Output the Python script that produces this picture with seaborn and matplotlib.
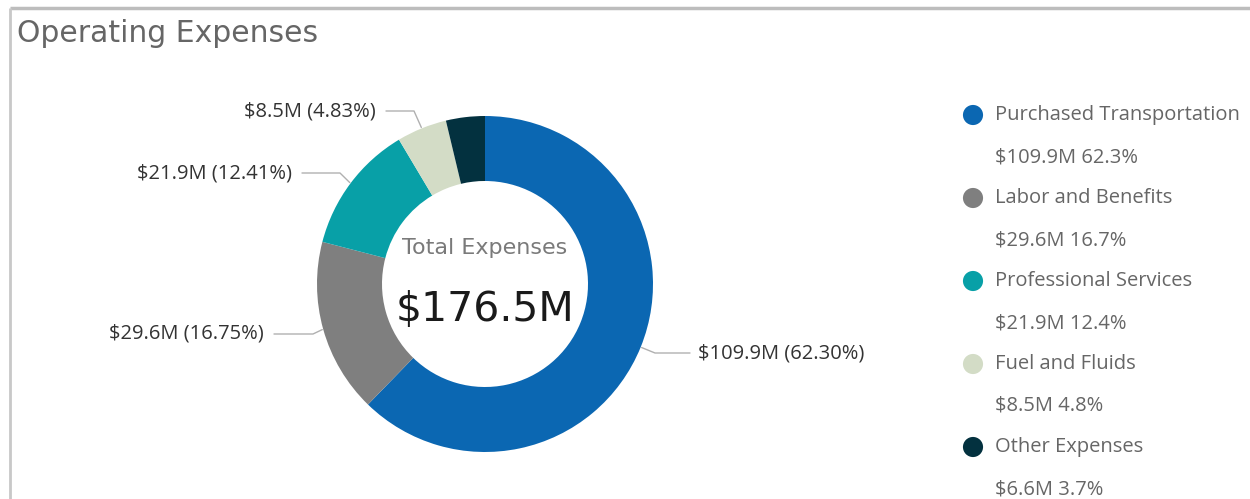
import matplotlib
matplotlib.use("Agg")
import matplotlib.pyplot as plt
import numpy as np
import seaborn as sns

# Operating expense breakdown ($M)
categories = ["Purchased Transportation", "Labor and Benefits",
              "Professional Services", "Fuel and Fluids", "Other Expenses"]
values = [109.9, 29.6, 21.9, 8.5, 6.6]
slice_pct = ["62.30%", "16.75%", "12.41%", "4.83%", None]
legend_pct = ["62.3%", "16.7%", "12.4%", "4.8%", "3.7%"]
total_label = "$176.5M"
colors = ["#0B67B2", "#7F7F7F", "#08A0A7", "#D3DCC6", "#03313F"]

sns.set_theme(style="white")
plt.rcParams["font.family"] = ["Open Sans", "DejaVu Sans"]

W, H = 1250, 499
fig = plt.figure(figsize=(W / 100, H / 100), dpi=100)
ax = fig.add_axes([0, 0, 1, 1])

def Y(y):
    # top-down pixel row to axis coordinate
    return H - y

cx, cy, R, ring = 485, Y(284), 168, 65
wedges, _ = ax.pie(values, colors=sns.color_palette(colors), startangle=90,
                   counterclock=False, radius=R, center=(cx, cy),
                   wedgeprops=dict(width=ring, edgecolor="none"))

# panel frame (top and left edges)
ax.plot([10, W], [Y(8), Y(8)], color="#BDBDBD", lw=2.5, solid_capstyle="butt")
ax.plot([10, 10], [Y(8), 0], color="#C8C8C8", lw=2.0, solid_capstyle="butt")

ax.text(17, Y(33), "Operating Expenses", fontsize=21.5, color="#666666",
        ha="left", va="center", family=["DejaVu Sans"])

# centre summary
ax.text(cx, Y(248), "Total Expenses", fontsize=16, color="#7A7A7A",
        ha="center", va="center", family=["DejaVu Sans"])
ax.text(cx, Y(310), total_label, fontsize=29.5, color="#1A1A1A",
        ha="center", va="center", family=["DejaVu Sans"])

# detail labels with leader lines: (label row, elbow x, line end x, side)
leaders = {
    0: (353, 655, 690, "right"),
    1: (334, 313, 274, "left"),
    2: (173, 340, 302, "left"),
    3: (111, 414, 386, "left"),
}
for i, (ly, ex, lx, side) in leaders.items():
    w = wedges[i]
    mid = np.deg2rad((w.theta1 + w.theta2) / 2)
    px = cx + (R + 1) * np.cos(mid)
    py = cy + (R + 1) * np.sin(mid)
    ax.plot([px, ex, lx], [py, Y(ly), Y(ly)], color="#B0B0B0", lw=1.0)
    label = f"${values[i]}M ({slice_pct[i]})"
    if side == "right":
        ax.text(lx + 8, Y(ly), label, fontsize=14.5, color="#333333",
                ha="left", va="center")
    else:
        ax.text(lx - 10, Y(ly), label, fontsize=14.5, color="#333333",
                ha="right", va="center")

# legend
row0, step = 115, 83
for i, name in enumerate(categories):
    ry = row0 + i * step
    ax.scatter([973], [Y(ry)], s=210, color=colors[i], edgecolor="none")
    ax.text(995, Y(ry), name, fontsize=14.5, color="#666666",
            ha="left", va="center")
    ax.text(995, Y(ry + 42), f"${values[i]}M {legend_pct[i]}", fontsize=14.5,
            color="#666666", ha="left", va="center")

ax.set_xlim(0, W)
ax.set_ylim(0, H)
ax.set_aspect("equal")
ax.set_axis_off()
fig.savefig("out.png", dpi=100, facecolor="white")
